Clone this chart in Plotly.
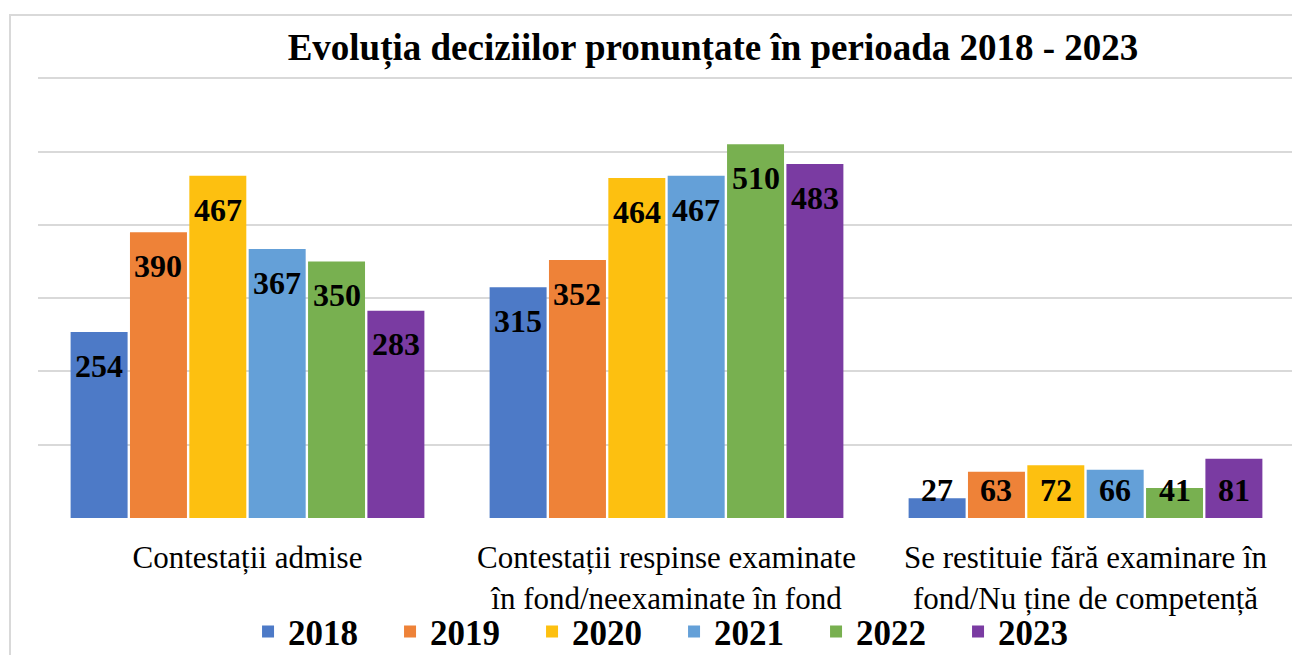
import plotly.graph_objects as go

categories = [
    "Contestații admise",
    "Contestații respinse examinate<br>în fond/neexaminate în fond",
    "Se restituie fără examinare în<br>fond/Nu ține de competență",
]
years = ["2018", "2019", "2020", "2021", "2022", "2023"]
values = {
    "2018": [254, 315, 27],
    "2019": [390, 352, 63],
    "2020": [467, 464, 72],
    "2021": [367, 467, 66],
    "2022": [350, 510, 41],
    "2023": [283, 483, 81],
}
colors = ["#4D7AC7", "#EE8238", "#FDC010", "#64A0D8", "#78B050", "#7A3BA2"]

SERIF = "Liberation Serif, Times New Roman, serif"
BARGAP = 0.15
W, H = 1292, 647  # page body adds an 8px margin
fig = go.Figure()
for yr, col in zip(years, colors):
    fig.add_trace(go.Bar(name=f"<b>{yr}</b>", x=list(range(len(categories))), y=values[yr],
                         marker=dict(color=col, line=dict(width=0))))

annotations = []
slot = (1 - BARGAP) / len(years)
for j, yr in enumerate(years):
    for i, v in enumerate(values[yr]):
        annotations.append(dict(
            x=i + (j - (len(years) - 1) / 2) * slot, y=max(v - 46, 38),
            xref="x", yref="y", text=f"<b>{v}</b>", showarrow=False,
            font=dict(family=SERIF, size=32, color="black"),
            xanchor="center", yanchor="middle"))

fig.update_layout(
    width=W, height=H,
    margin=dict(l=30, r=5, t=66, b=137, autoexpand=False),
    paper_bgcolor="white", plot_bgcolor="white",
    barmode="group", bargap=BARGAP, bargroupgap=0.04,
    title=dict(text="<b>Evoluția deciziilor pronunțate în perioada 2018 - 2023</b>",
               x=705 / W, xref="container", xanchor="center",
               y=1 - 39 / H, yref="container", yanchor="middle",
               font=dict(family=SERIF, size=37, color="black")),
    xaxis=dict(tickmode="array", tickvals=list(range(len(categories))), ticktext=categories,
               range=[-0.5, len(categories) - 0.5],
               tickfont=dict(family=SERIF, size=31, color="black"),
               ticks="outside", ticklen=12, tickcolor="rgba(0,0,0,0)",
               showline=False, showgrid=False, zeroline=False),
    yaxis=dict(range=[0, 606], tickvals=[0, 100, 200, 300, 400, 500, 600], showticklabels=False,
               showgrid=True, gridcolor="#d9d9d9", gridwidth=2,
               zeroline=False, showline=False),
    legend=dict(orientation="h", x=0.506, xanchor="center", y=-0.256, yanchor="middle",
                font=dict(family=SERIF, size=35, color="black"),
                entrywidth=97, entrywidthmode="pixels",
                bgcolor="rgba(0,0,0,0)"),
    annotations=annotations,
    shapes=[dict(type="rect", xref="paper", yref="paper",
                 x0=-28 / 1257, x1=1.05, y0=-0.5, y1=(510 - 7) / 444,
                 line=dict(color="#d9d9d9", width=2), fillcolor="rgba(0,0,0,0)", layer="below")],
)
fig.write_html("out.html")
